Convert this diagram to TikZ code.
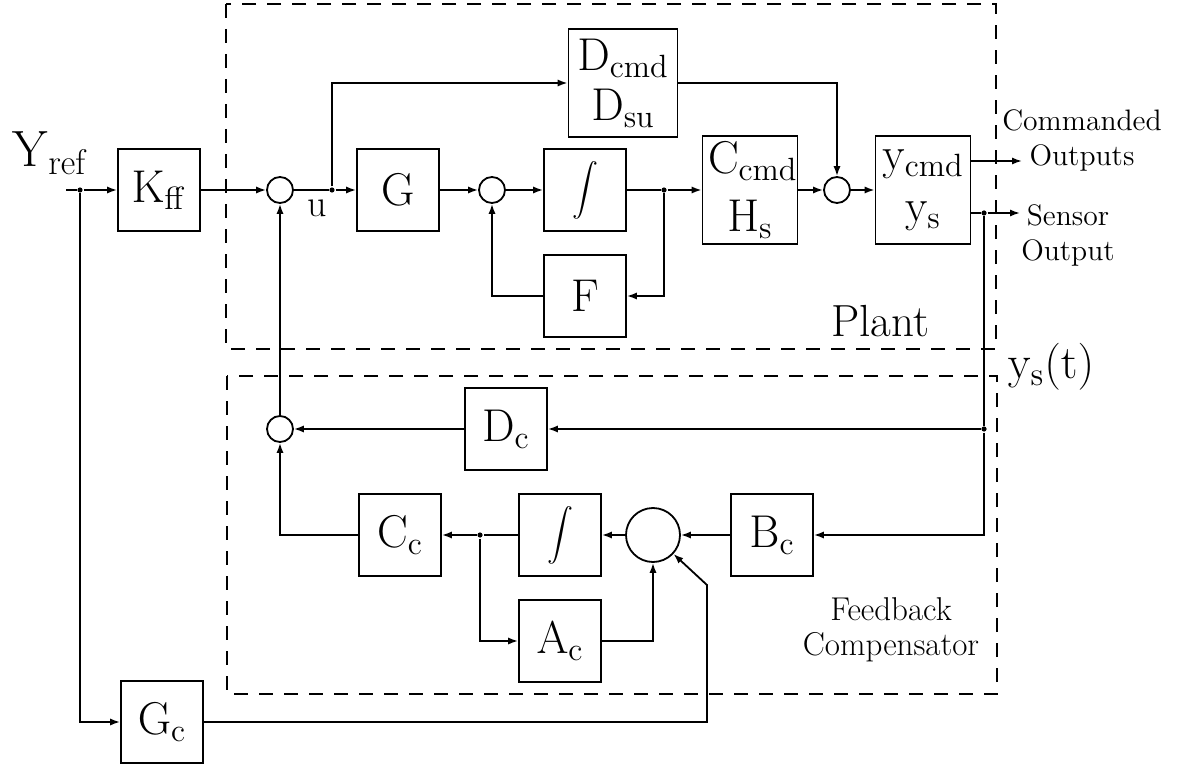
\documentclass[tikz,border=0pt]{standalone}
\usepackage{fix-cm}
\usepackage{graphicx}
\usetikzlibrary{arrows.meta,positioning}

\begin{document}
\begin{tikzpicture}[x=0.5pt, y=-0.5pt, line width=0.9pt, every node/.style={font=\fontsize{23}{25}\selectfont}, box/.style={draw,align=center,inner sep=1pt,minimum width=41pt,minimum height=41pt}, bigbox/.style={box,minimum width=47.5pt,minimum height=54pt}, sumc/.style={draw,circle,inner sep=0pt,minimum size=13pt}, junc/.style={circle,fill,inner sep=0pt,minimum size=2.6pt}, frame/.style={dash pattern=on 7pt off 5.5pt}, note/.style={align=center,font=\fontsize{14.8}{17.5}\selectfont}, intg/.style={box,font=\normalsize}, arr/.style={-{Latex[length=5pt,width=3.6pt]}}]
\useasboundingbox (0,0) rectangle (1179,765);
% plant and compensator frames
\draw[frame] (226,4) rectangle (996,349);
\draw[frame] (227,376) rectangle (997,694);
% forward path
\coordinate (yin) at (66,190);
\node[junc] (yb) at (80,190) {};
\node[anchor=base west,inner sep=0pt,font=\fontsize{25.5}{27}\selectfont] (yref) at (12,167) {$\mathrm{Y_{ref}}$};
\node[box] (kff) at (159,190) {$\mathrm{K_{ff}}$};
\node[sumc] (s1) at (280,190) {};
\node[junc] (ub) at (332,190) {};
\node[font=\fontsize{19}{21}\selectfont] (ulab) at (317,208) {u};
\node[box] (g) at (398,190) {G};
\node[sumc] (s2) at (492,190) {};
\node[intg] (int1) at (585,190) {\scalebox{1.3}{$\displaystyle\int$}};
\node[junc] (xb) at (664,190) {};
\node[box] (f) at (585,296) {F};
\node[box,minimum width=54.5pt,minimum height=54pt] (dcmd) at (623,83) {$\mathrm{D_{cmd}}$\\$\mathrm{D_{su}}$};
\node[bigbox] (ccmd) at (750,190) {\makebox[42pt][l]{$\mathrm{C_{cmd}}$}\\[4pt]$\mathrm{H_s}$};
\node[sumc] (s3) at (837,190) {};
\node[bigbox] (yout) at (923,190) {$\mathrm{y_{cmd}}$\\[1pt]$\mathrm{y_s}$};
% outputs
\coordinate (co) at (1022,161);
\coordinate (so) at (1020,213);
\node[junc] (sb) at (984,213) {};
\node[junc] (fb) at (984,429) {};
\node[note] (cmdlab) at (1082,140) {Commanded\\Outputs};
\node[note] (senlab) at (1068,235) {Sensor\\Output};
\node[font=\fontsize{22.5}{24}\selectfont] (plantlab) at (880,321) {Plant};
\node[font=\fontsize{23.5}{25}\selectfont] (yslab) at (1051,367) {$\mathrm{y_s(t)}$};
% compensator
\node[sumc] (s4) at (280,429) {};
\node[box] (dc) at (506,429) {$\mathrm{D_c}$};
\node[box] (cc) at (400,535) {$\mathrm{C_c}$};
\node[junc] (cb) at (480,535) {};
\node[intg] (int2) at (560,535) {\scalebox{1.3}{$\displaystyle\int$}};
\node[sumc,minimum size=27pt] (s5) at (653,535) {};
\node[box] (bc) at (772,535) {$\mathrm{B_c}$};
\node[box] (ac) at (560,641) {$\mathrm{A_c}$};
\node[note,font=\fontsize{16.5}{17.5}\selectfont] (fclab) at (891,630) {Feedback\\Compensator};
\node[box] (gc) at (162,722) {$\mathrm{G_c}$};
\coordinate (gk) at (707,585);

\draw (yin) -- (yb);
\draw[arr] (yb) -- (kff);
\draw[arr] (yb) |- (gc);
\draw[arr] (kff) -- (s1);
\draw (s1) -- (ub);
\draw[arr] (ub) -- (g);
\draw[arr] (ub) |- (dcmd);
\draw[arr] (g) -- (s2);
\draw[arr] (s2) -- (int1);
\draw (int1) -- (xb);
\draw[arr] (xb) -- (ccmd);
\draw[arr] (xb) |- (f);
\draw[arr] (f) -| (s2);
\draw[arr] (dcmd) -| (s3);
\draw[arr] (ccmd) -- (s3);
\draw[arr] (s3) -- (yout);
\draw[arr] (yout.east |- co) -- (co);
\draw (yout.east |- sb) -- (sb);
\draw[arr] (sb) -- (so);
\draw (sb) -- (fb);
\draw[arr] (fb) -- (dc);
\draw[arr] (fb) |- (bc);
\draw[arr] (dc) -- (s4);
\draw[arr] (s4) -- (s1);
\draw[arr] (bc) -- (s5);
\draw[arr] (s5) -- (int2);
\draw (int2) -- (cb);
\draw[arr] (cb) -- (cc);
\draw[arr] (cc) -| (s4);
\draw[arr] (cb) |- (ac);
\draw[arr] (ac) -| (s5);
\draw[arr] (gc) -| (gk) -- (s5);
\end{tikzpicture}
\end{document}
